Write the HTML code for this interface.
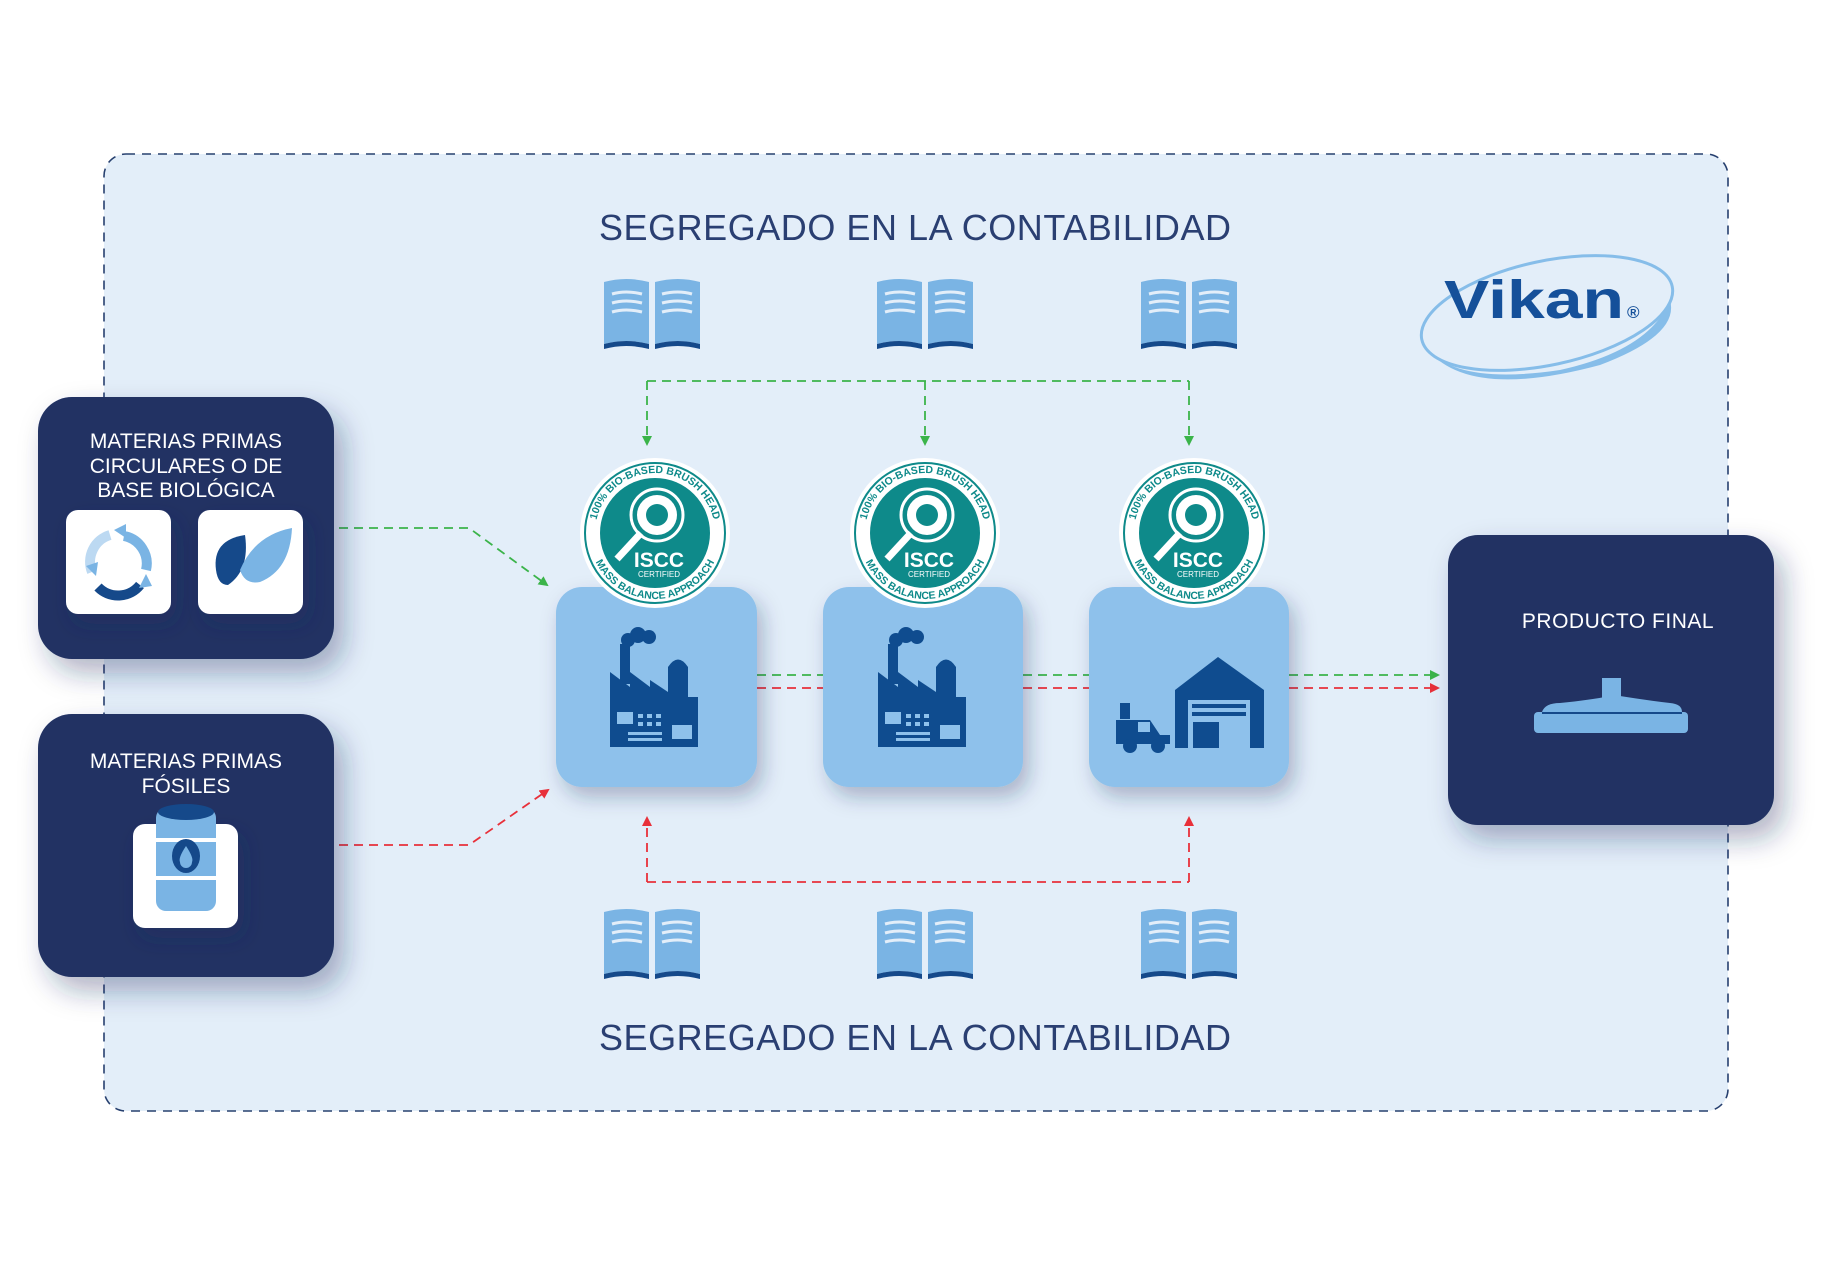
<!DOCTYPE html>
<html><head><meta charset="utf-8"><style>
html,body{margin:0;padding:0;background:#fff;}
svg{display:block;}
text{font-family:"Liberation Sans",sans-serif;}
</style></head><body>
<svg width="1848" height="1268" viewBox="0 0 1848 1268" xmlns="http://www.w3.org/2000/svg">
<defs>
<filter id="sh" x="-30%" y="-30%" width="170%" height="170%"><feDropShadow dx="10" dy="14" stdDeviation="14" flood-color="#1b2d5a" flood-opacity="0.35"/></filter>
<filter id="sh2" x="-30%" y="-30%" width="170%" height="170%"><feDropShadow dx="6" dy="10" stdDeviation="10" flood-color="#1b2d5a" flood-opacity="0.3"/></filter>
<marker id="ag" markerWidth="10" markerHeight="10" refX="8" refY="5" orient="auto" markerUnits="userSpaceOnUse"><path d="M0,0 L10,5 L0,10z" fill="#3bb44a"/></marker>
<marker id="ar" markerWidth="10" markerHeight="10" refX="8" refY="5" orient="auto" markerUnits="userSpaceOnUse"><path d="M0,0 L10,5 L0,10z" fill="#e8303a"/></marker>
<g id="book">
  <path d="M-48,-52 Q-26,-58 -3,-52 L-3,10 Q-26,4 -48,10z" fill="#7ab4e4"/>
  <path d="M48,-52 Q26,-58 3,-52 L3,10 Q26,4 48,10z" fill="#7ab4e4"/>
  <path d="M-48,10 Q-26,4 -3,10 L-3,15 Q-26,9 -48,15z M48,10 Q26,4 3,10 L3,15 Q26,9 48,15z" fill="#15498a"/>
  <g stroke="#e3eef9" stroke-width="3" fill="none"><path d="M-40,-40 Q-26,-44 -10,-40 M-40,-31 Q-26,-35 -10,-31 M-40,-22 Q-26,-26 -10,-22 M10,-40 Q26,-44 40,-40 M10,-31 Q26,-35 40,-31 M10,-22 Q26,-26 40,-22"/></g>
</g>
<g id="factory" fill="#0f4c8f">
  <circle cx="-22" cy="-52" r="7"/><circle cx="-12" cy="-57" r="8"/><circle cx="-1" cy="-55" r="7"/>
  <rect x="-30" y="-48" width="10" height="40"/>
  <path d="M-40,-20 L-40,55 L48,55 L48,5 L38,5 L38,-25 Q28,-40 18,-25 L18,0 L0,-12 L0,-5 L-20,-20 L-20,-5 L-40,-20z"/>
  <g fill="#8ec1eb"><rect x="-33" y="20" width="16" height="12"/>
  <rect x="-12" y="22" width="5" height="4"/><rect x="-3" y="22" width="5" height="4"/><rect x="6" y="22" width="5" height="4"/><rect x="-12" y="30" width="5" height="4"/><rect x="-3" y="30" width="5" height="4"/><rect x="6" y="30" width="5" height="4"/>
  <rect x="-22" y="40" width="34" height="3"/><rect x="-22" y="46" width="34" height="3"/><rect x="22" y="33" width="20" height="14"/></g>
</g>
<path id="arcT" d="M-60,0 A60,60 0 0 1 60,0"/>
<path id="arcB" d="M-66,0 A66,66 0 0 0 66,0"/>
<g id="badge">
  <circle r="75" fill="#fff"/>
  <circle r="70" fill="none" stroke="#0e8a8a" stroke-width="2"/>
  <circle r="55" fill="#0e8a8a"/>
  <circle cx="2" cy="-18" r="26" fill="#0e8a8a" stroke="#fff" stroke-width="3"/>
  <circle cx="2" cy="-18" r="20" fill="#fff"/>
  <circle cx="2" cy="-18" r="11" fill="#0e8a8a"/>
  <path d="M-14,0 L-38,26" stroke="#fff" stroke-width="7"/>
  <text x="4" y="34" font-family="Liberation Serif,serif" font-size="21" fill="#fff" text-anchor="middle" font-weight="bold">ISCC</text>
  <text x="4" y="44" font-family="Liberation Serif,serif" font-size="8" fill="#fff" text-anchor="middle">CERTIFIED</text>
  <text font-family="Liberation Serif,serif" font-size="10.5" font-weight="bold" fill="#0e8a8a"><textPath href="#arcT" startOffset="50%" text-anchor="middle">100% BIO-BASED BRUSH HEAD</textPath></text>
  <text font-family="Liberation Serif,serif" font-size="10.5" font-weight="bold" fill="#0e8a8a"><textPath href="#arcB" startOffset="50%" text-anchor="middle">MASS BALANCE APPROACH</textPath></text>
</g>
</defs>

<rect x="104" y="154" width="1624" height="957" rx="22" fill="#e3eef9" stroke="#27406f" stroke-width="1.6" stroke-dasharray="9,7"/>

<text x="916" y="240" font-size="36" fill="#2a3f72" text-anchor="middle" letter-spacing="2" textLength="634">SEGREGADO EN LA CONTABILIDAD</text>
<text x="916" y="1050" font-size="36" fill="#2a3f72" text-anchor="middle" letter-spacing="2" textLength="634">SEGREGADO EN LA CONTABILIDAD</text>

<use href="#book" x="652" y="334"/><use href="#book" x="925" y="334"/><use href="#book" x="1189" y="334"/>
<use href="#book" x="652" y="964"/><use href="#book" x="925" y="964"/><use href="#book" x="1189" y="964"/>

<!-- Vikan logo -->
<ellipse cx="1547" cy="313" rx="128" ry="52" transform="rotate(-12 1547 313)" fill="none" stroke="#86bde9" stroke-width="3"/>
<path d="M1428,350 Q1470,400 1600,365 Q1680,335 1670,300 Q1650,350 1560,370 Q1460,385 1428,350z" fill="#86bde9"/>
<text x="1444" y="318" font-size="54" font-weight="bold" fill="#15509a" textLength="180" lengthAdjust="spacingAndGlyphs">Vikan</text>
<text x="1627" y="318" font-size="17" font-weight="bold" fill="#15509a">®</text>

<!-- connectors -->
<g fill="none" stroke="#3bb44a" stroke-width="1.8" stroke-dasharray="9,6">
<path d="M647,381 L1189,381"/>
<path d="M647,381 L647,444" marker-end="url(#ag)"/>
<path d="M925,381 L925,444" marker-end="url(#ag)"/>
<path d="M1189,381 L1189,444" marker-end="url(#ag)"/>
<path d="M339,528 L469,528 L547,585" marker-end="url(#ag)"/>
<path d="M757,675 L823,675 M1023,675 L1089,675"/>
<path d="M1289,675 L1438,675" marker-end="url(#ag)"/>
</g>
<g fill="none" stroke="#e8303a" stroke-width="1.8" stroke-dasharray="9,6">
<path d="M647,882 L1189,882"/>
<path d="M647,882 L647,818" marker-end="url(#ar)"/>
<path d="M1189,882 L1189,818" marker-end="url(#ar)"/>
<path d="M339,845 L469,845 L548,790" marker-end="url(#ar)"/>
<path d="M757,688 L823,688 M1023,688 L1089,688"/>
<path d="M1289,688 L1438,688" marker-end="url(#ar)"/>
</g>

<!-- left boxes -->
<rect x="38" y="397" width="296" height="262" rx="34" fill="#203263" filter="url(#sh)"/>
<text x="186" y="448" font-size="21" fill="#fff" text-anchor="middle">MATERIAS PRIMAS</text>
<text x="186" y="473" font-size="21" fill="#fff" text-anchor="middle">CIRCULARES O DE</text>
<text x="186" y="497" font-size="21" fill="#fff" text-anchor="middle">BASE BIOLÓGICA</text>
<rect x="66" y="510" width="105" height="104" rx="12" fill="#fff" filter="url(#sh2)"/>
<rect x="198" y="510" width="105" height="104" rx="12" fill="#fff" filter="url(#sh2)"/>
<g fill="none" stroke-width="10">
<path d="M92,572 A28,28 0 0 1 110,535" stroke="#bcd9f2"/>
<path d="M124,536 A28,28 0 0 1 146,570" stroke="#7ab4e4"/>
<path d="M140,585 A28,28 0 0 1 98,587" stroke="#15498a"/>
</g>
<path d="M86,566 l12,-4 l-2,14z M114,530 l12,-6 l0,14z M146,574 l6,12 l-13,2z" fill="#7ab4e4"/>
<path d="M216,570 Q212,540 245,535 Q250,570 228,585 Q218,585 216,570z" fill="#15498a"/>
<path d="M240,570 Q255,535 292,528 Q290,570 260,582 Q245,585 240,570z" fill="#7ab4e4"/>

<rect x="38" y="714" width="296" height="263" rx="34" fill="#203263" filter="url(#sh)"/>
<text x="186" y="768" font-size="21" fill="#fff" text-anchor="middle">MATERIAS PRIMAS</text>
<text x="186" y="793" font-size="21" fill="#fff" text-anchor="middle">FÓSILES</text>
<rect x="133" y="824" width="105" height="104" rx="12" fill="#fff" filter="url(#sh2)"/>
<rect x="156" y="808" width="60" height="103" rx="10" fill="#7ab4e4"/>
<ellipse cx="186" cy="812" rx="28" ry="8" fill="#15498a"/>
<rect x="156" y="838" width="60" height="4" fill="#fff"/><rect x="156" y="876" width="60" height="4" fill="#fff"/>
<ellipse cx="186" cy="856" rx="14" ry="17" fill="#15498a"/>
<path d="M186,846 Q178,858 180,862 A6,6 0 0 0 192,862 Q194,858 186,846z" fill="#7ab4e4"/>

<!-- process boxes -->
<rect x="556" y="587" width="201" height="200" rx="26" fill="#8ec1eb" filter="url(#sh2)"/>
<rect x="823" y="587" width="200" height="200" rx="26" fill="#8ec1eb" filter="url(#sh2)"/>
<rect x="1089" y="587" width="200" height="200" rx="26" fill="#8ec1eb" filter="url(#sh2)"/>
<use href="#factory" x="650" y="692"/>
<use href="#factory" x="918" y="692"/>
<g fill="#0f4c8f">
<path d="M1175,690 L1218,657 L1264,690 L1264,748 L1250,748 L1250,700 L1188,700 L1188,748 L1175,748z"/>
<rect x="1192" y="704" width="54" height="4"/><rect x="1192" y="712" width="54" height="4"/>
<rect x="1193" y="722" width="26" height="26"/>
<path d="M1116,720 L1150,720 L1160,735 L1170,735 L1170,744 L1116,744z"/>
<circle cx="1130" cy="746" r="7"/><circle cx="1158" cy="746" r="7"/>
<rect x="1120" y="703" width="10" height="16"/>
</g>
<rect x="1138" y="722" width="12" height="10" fill="#8ec1eb"/>

<use href="#badge" x="655" y="533"/>
<use href="#badge" x="925" y="533"/>
<use href="#badge" x="1194" y="533"/>

<!-- final box -->
<rect x="1448" y="535" width="326" height="290" rx="30" fill="#203263" filter="url(#sh)"/>
<text x="1618" y="628" font-size="21" fill="#fff" text-anchor="middle" letter-spacing="0.5">PRODUCTO FINAL</text>
<rect x="1602" y="678" width="19" height="20" fill="#7ab4e4"/>
<path d="M1542,712 Q1545,703 1560,703 Q1590,700 1610,696 L1620,696 Q1645,700 1670,703 Q1682,704 1682,712z" fill="#7ab4e4"/>
<rect x="1534" y="712" width="154" height="21" rx="4" fill="#7ab4e4"/>
<rect x="1542" y="712" width="140" height="2" fill="#15498a"/>
</svg>
</body></html>
